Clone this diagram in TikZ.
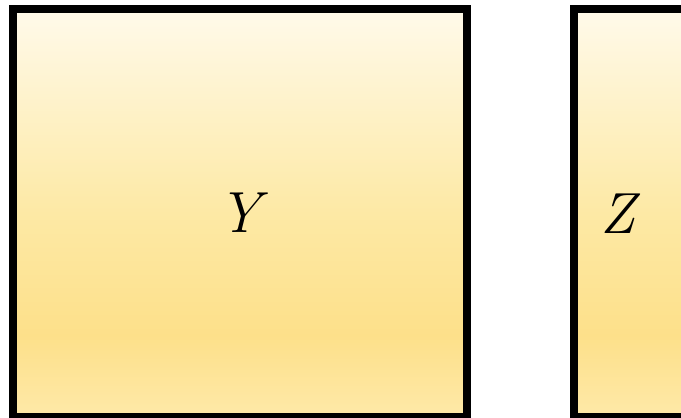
\documentclass[tikz,border=0pt]{standalone}
\usepackage{fontspec}
\usepackage{tikz}
\definecolor{creamtop}{RGB}{255,250,234}
\definecolor{creammid}{RGB}{253,233,165}
\definecolor{creamdeep}{RGB}{253,224,138}
\definecolor{creambot}{RGB}{254,233,168}
\pgfdeclareverticalshading{creamfade}{100bp}{color(0bp)=(creambot); color(25bp)=(creambot); color(35bp)=(creamdeep); color(50bp)=(creammid); color(75bp)=(creamtop); color(100bp)=(creamtop)}

\begin{document}
\begin{tikzpicture}[x=1pt,y=-1pt,
    panel/.style={draw=black, line width=8.5pt, shading=creamfade},
    sym/.style={font=\fontsize{58}{58}\selectfont\itshape}]
            \useasboundingbox (0,0) rectangle (681,418);
            \clip (0,0) rectangle (681,418);
            
            % left panel
            \draw[panel] (13,9) rectangle (467,417);
            \node[sym] (y) at (240,213) {Y};
            
            % right panel, runs off the page
            \draw[panel] (574,9) rectangle (1028,417);
            \node[sym] (z) at (618,214) {Z};
        \end{tikzpicture}
\end{document}
